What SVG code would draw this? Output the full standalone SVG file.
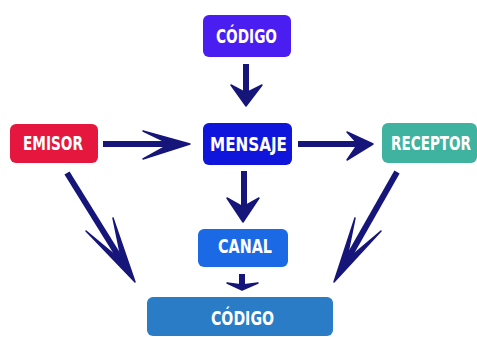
<svg xmlns="http://www.w3.org/2000/svg" width="477" height="337" viewBox="0 0 477 337">
<style>
.box{stroke:none}
.lbl{fill:#ffffff;font-family:"DejaVu Sans Condensed","Liberation Sans",sans-serif;font-weight:bold;font-size:19px;text-anchor:middle;font-stretch:condensed}
.shaft{stroke:#15157a;stroke-width:6;fill:none}
.head{fill:#15157a;stroke:#15157a;stroke-width:1.5;stroke-linejoin:round}
</style>
<rect width="477" height="337" fill="#ffffff"/>
<g id="codigo-top">
<rect class="box" x="203" y="15" width="88" height="42" rx="6" fill="#4a1ef0"/>
<text class="lbl" x="246.5" y="43" textLength="61" lengthAdjust="spacingAndGlyphs">CÓDIGO</text>
</g>
<g id="emisor">
<rect class="box" x="10" y="124" width="88" height="39" rx="6" fill="#e5173e"/>
<text class="lbl" x="53" y="150" textLength="60" lengthAdjust="spacingAndGlyphs">EMISOR</text>
</g>
<g id="mensaje">
<rect class="box" x="203" y="123" width="89" height="42" rx="6" fill="#1015dc"/>
<text class="lbl" x="248.5" y="151" textLength="77" lengthAdjust="spacingAndGlyphs">MENSAJE</text>
</g>
<g id="receptor">
<rect class="box" x="382" y="123" width="95" height="40" rx="6" fill="#3fb3a0"/>
<text class="lbl" transform="translate(431,150) scale(1,1.18)" x="0" y="0" style="font-size:16px" textLength="80" lengthAdjust="spacingAndGlyphs">RECEPTOR</text>
</g>
<g id="canal">
<rect class="box" x="198" y="229" width="90" height="38" rx="6" fill="#1c69e6"/>
<text class="lbl" x="245" y="253" textLength="54" lengthAdjust="spacingAndGlyphs">CANAL</text>
</g>
<g id="codigo-bottom">
<rect class="box" x="147" y="297" width="186" height="39" rx="6" fill="#2a7cc6"/>
<text class="lbl" x="242.5" y="325" textLength="63" lengthAdjust="spacingAndGlyphs">CÓDIGO</text>
</g>
<g id="connectors">
<line class="shaft" x1="246" y1="64" x2="246" y2="96"/>
<polygon class="head" points="246,106 231,85 246,93 262,85"/>
<line class="shaft" x1="103" y1="144" x2="176" y2="144"/>
<polygon class="head" points="190,144 143,131 170,144 143,159"/>
<line class="shaft" x1="298" y1="144" x2="362" y2="144"/>
<polygon class="head" points="373,144 347,132 358,144 347,160"/>
<line class="shaft" x1="244" y1="171" x2="244" y2="212"/>
<polygon class="head" points="243,222 227,198 243,207 259,198"/>
<line class="shaft" x1="242" y1="274" x2="242" y2="287"/>
<polygon class="head" points="242,290 227,283 242,285 258,283"/>
<line class="shaft" x1="67" y1="173" x2="126" y2="268"/>
<polygon class="head" points="135,282 86,231 121.8,260.8 113,218"/>
<line class="shaft" x1="397" y1="172" x2="343" y2="267"/>
<polygon class="head" points="334,282 355,218 346.4,260.3 381,231"/>
</g>
</svg>
